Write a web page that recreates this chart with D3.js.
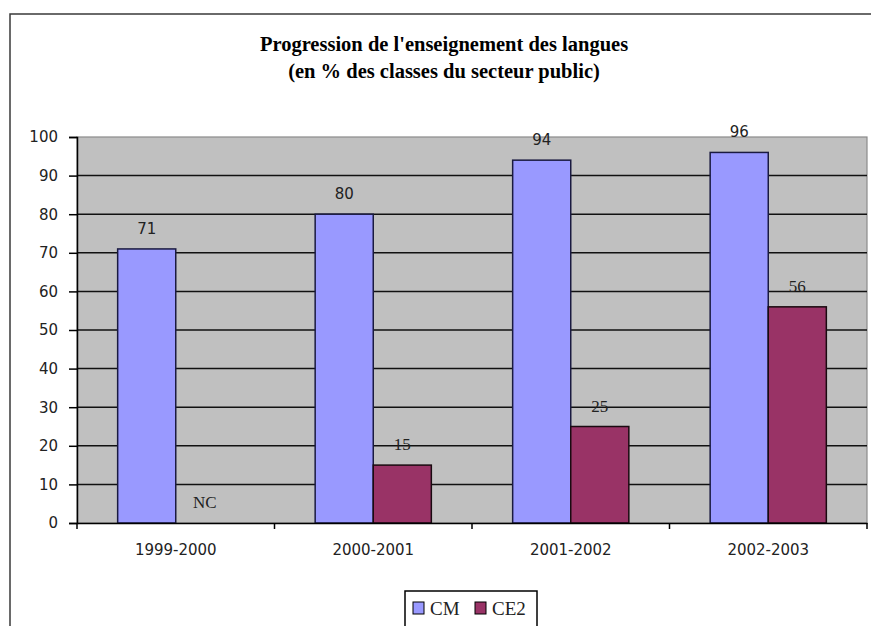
<!DOCTYPE html>
<html>
<head>
<meta charset="utf-8">
<script src="https://cdn.jsdelivr.net/npm/d3@7"></script>
<style>
  html, body { margin: 0; padding: 0; background: #fff; }
  svg { display: block; }
</style>
</head>
<body>
<script>
const categories = ["1999-2000", "2000-2001", "2001-2002", "2002-2003"];
const seriesNames = ["CM", "CE2"];
const cmValues = [71, 80, 94, 96];
const ce2Values = [null, 15, 25, 56];
const ce2Labels = ["NC", "15", "25", "56"];
const yTicks = [0, 10, 20, 30, 40, 50, 60, 70, 80, 90, 100];
const titleLines = ["Progression de l'enseignement des langues", "(en % des classes du secteur public)"];
const colors = { CM: "#9999FF", CE2: "#993366" };

const W = 871, H = 626;
const plot = { left: 77, right: 867, top: 137, bottom: 523 };

const svg = d3.select("body").append("svg").attr("width", W).attr("height", H);

// outer chart border (left and top visible)
svg.append("rect").attr("x", 10).attr("y", 14).attr("width", W + 20).attr("height", H + 20)
  .attr("fill", "#fff").attr("stroke", "#3a3a3a").attr("stroke-width", 1.5);

// title
const title = svg.append("text").attr("text-anchor", "middle")
  .attr("font-family", "'Liberation Serif', 'Times New Roman', serif")
  .attr("font-weight", "bold").attr("font-size", 20.5).attr("fill", "#000");
titleLines.forEach((t, i) => {
  title.append("tspan").attr("x", 444).attr("y", 51 + i * 27).text(t);
});

const x = d3.scaleBand().domain(categories).range([plot.left, plot.right]).paddingInner(0).paddingOuter(0);
const x1 = d3.scaleBand().domain(seriesNames).range([0, x.bandwidth()]).paddingInner(0).paddingOuter(0.7);
const y = d3.scaleLinear().domain([0, 100]).range([plot.bottom, plot.top]);

// plot area
svg.append("rect").attr("x", plot.left).attr("y", plot.top)
  .attr("width", plot.right - plot.left).attr("height", plot.bottom - plot.top)
  .attr("fill", "#C0C0C0").attr("stroke", "#8a8a8a").attr("stroke-width", 1.2);

// gridlines
svg.append("g").selectAll("line").data(yTicks.filter(d => d > 0 && d < 100)).join("line")
  .attr("x1", plot.left).attr("x2", plot.right)
  .attr("y1", d => y(d)).attr("y2", d => y(d))
  .attr("stroke", "#111").attr("stroke-width", 1.5);

// y axis
const yAxis = svg.append("g").attr("transform", `translate(${plot.left},0)`)
  .call(d3.axisLeft(y).tickValues(yTicks).tickSize(8).tickPadding(11));
yAxis.select(".domain").attr("stroke", "#000").attr("stroke-width", 1.5);
yAxis.selectAll(".tick line").attr("stroke", "#000").attr("stroke-width", 1.5);
yAxis.selectAll("text").attr("font-family", "'DejaVu Sans', sans-serif").attr("font-size", 15).attr("fill", "#222");

// bars
const data = categories.map((c, i) => ({ cat: c, CM: cmValues[i], CE2: ce2Values[i], ce2Label: ce2Labels[i] }));
const groups = svg.append("g").selectAll("g").data(data).join("g")
  .attr("transform", d => `translate(${x(d.cat)},0)`);

groups.append("rect")
  .attr("x", x1("CM")).attr("width", x1.bandwidth())
  .attr("y", d => y(d.CM)).attr("height", d => y(0) - y(d.CM))
  .attr("fill", colors.CM).attr("stroke", "#1a1a40").attr("stroke-width", 1.5);

groups.filter(d => d.CE2 != null).append("rect")
  .attr("x", x1("CE2")).attr("width", x1.bandwidth())
  .attr("y", d => y(d.CE2)).attr("height", d => y(0) - y(d.CE2))
  .attr("fill", colors.CE2).attr("stroke", "#1a0a10").attr("stroke-width", 1.5);

// x axis
const xAxis = svg.append("g").attr("transform", `translate(0,${plot.bottom})`)
  .call(d3.axisBottom(x).tickSize(0).tickPadding(21));
xAxis.select(".domain").attr("stroke", "#000").attr("stroke-width", 1.5);
xAxis.selectAll("text").attr("font-family", "'DejaVu Sans', sans-serif").attr("font-size", 15).attr("fill", "#222");
// category boundary ticks
svg.append("g").selectAll("line").data(categories.map(c => x(c)).concat([plot.right])).join("line")
  .attr("x1", d => d).attr("x2", d => d)
  .attr("y1", plot.bottom).attr("y2", plot.bottom + 6)
  .attr("stroke", "#000").attr("stroke-width", 1.5);

// data labels
groups.append("text")
  .attr("x", x1("CM") + x1.bandwidth() / 2)
  .attr("y", d => y(d.CM) - 15)
  .attr("text-anchor", "middle")
  .attr("font-family", "'DejaVu Sans', sans-serif").attr("font-size", 15).attr("fill", "#222")
  .text(d => d.CM);

groups.append("text")
  .attr("x", x1("CE2") + x1.bandwidth() / 2)
  .attr("y", d => y(d.CE2 == null ? 0 : d.CE2) - 15)
  .attr("text-anchor", "middle")
  .attr("font-family", "'Liberation Serif', 'Times New Roman', serif").attr("font-size", 17).attr("fill", "#222")
  .text(d => d.ce2Label);

// legend
const lg = svg.append("g").attr("transform", "translate(405,591)");
lg.append("rect").attr("width", 132).attr("height", 45)
  .attr("fill", "#fff").attr("stroke", "#000").attr("stroke-width", 1.5);
const lx = [8, 70];
seriesNames.forEach((s, i) => {
  lg.append("rect").attr("x", lx[i]).attr("y", 11).attr("width", 11).attr("height", 12)
    .attr("fill", colors[s]).attr("stroke", "#000").attr("stroke-width", 1);
  lg.append("text").attr("x", lx[i] + 17).attr("y", 24)
    .attr("font-family", "'Liberation Serif', 'Times New Roman', serif").attr("font-size", 19).attr("fill", "#222")
    .text(s);
});
</script>
</body>
</html>
